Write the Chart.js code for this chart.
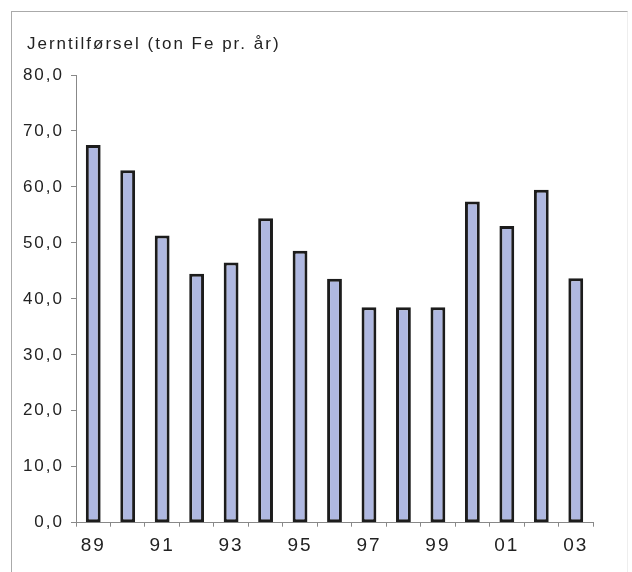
<!DOCTYPE html>
<html>
<head>
<meta charset="utf-8">
<script src="https://cdn.jsdelivr.net/npm/chart.js@4/dist/chart.umd.min.js"></script>
<style>
  body { margin: 0; background: #fff; }
  #wrap { position: relative; width: 632px; height: 572px; }
  #frame { position: absolute; left: 11px; top: 11px; width: 615px; height: 570px;
           border-left: 1px solid #aaa; border-top: 1px solid #aaa; border-right: 1px solid #eee;
           pointer-events: none; }
</style>
</head>
<body>
<div id="wrap">
  <canvas id="chart" width="632" height="572"></canvas>
  <div id="frame"></div>
</div>
<script>
// ========== DATA ==========
const years = ['89','90','91','92','93','94','95','96','97','98','99','00','01','02','03'];
const ironInput = [67.5, 63.0, 51.3, 44.5, 46.5, 54.4, 48.6, 43.6, 38.5, 38.5, 38.5, 57.4, 53.0, 59.5, 43.7];
const shownYears = ['89','91','93','95','97','99','01','03'];
const yTicks = [0, 10, 20, 30, 40, 50, 60, 70, 80];
const titleText = 'Jerntilførsel (ton Fe pr. år)';

// ========== LETTER SPACING + TITLE ==========
const spacing = {
  id: 'spacing',
  beforeUpdate(chart){ chart.ctx.letterSpacing = '2px'; },
  beforeDraw(chart){ chart.ctx.letterSpacing = '2px'; },
  afterDraw(chart){
    const ctx = chart.ctx;
    ctx.save();
    ctx.letterSpacing = '2px';
    ctx.font = '17px "Liberation Sans"';
    ctx.fillStyle = '#222';
    ctx.textAlign = 'left';
    ctx.textBaseline = 'middle';
    ctx.fillText(titleText, 27, 44);
    ctx.restore();
  }
};

// ========== CHART ==========
new Chart(document.getElementById('chart'), {
  type: 'bar',
  data: {
    labels: years,
    datasets: [{
      data: ironInput,
      backgroundColor: '#afb8e1',
      borderColor: '#1c1c1c',
      borderWidth: 3,
      borderSkipped: false,
      categoryPercentage: 1,
      barPercentage: 0.43
    }]
  },
  options: {
    responsive: false,
    animation: false,
    devicePixelRatio: 1,
    layout: { padding: { left: 18, right: 39, top: 75, bottom: 0 } },
    plugins: {
      legend: { display: false },
      tooltip: { enabled: false },
      title: { display: false }
    },
    scales: {
      x: {
        grid: { display: true, drawOnChartArea: false, offset: true, tickLength: 4, color: '#888' },
        border: { display: true, color: '#888', width: 1 },
        ticks: {
          autoSkip: false,
          maxRotation: 0,
          padding: 8,
          color: '#222',
          font: { family: 'Liberation Sans', size: 19 },
          callback: function(v, i){ const l = years[i]; return shownYears.includes(l) ? l : ''; }
        },
        afterFit(scale){ scale.height = 49.3; }
      },
      y: {
        min: yTicks[0],
        max: yTicks[yTicks.length - 1],
        afterBuildTicks(scale){ scale.ticks = yTicks.map(v => ({ value: v })); },
        grid: { display: true, drawOnChartArea: false, tickLength: 5, color: '#888' },
        border: { display: true, color: '#888', width: 1 },
        ticks: {
          padding: 7,
          color: '#222',
          font: { family: 'Liberation Sans', size: 17 },
          callback: v => v.toFixed(1).replace('.', ',')
        },
        afterFit(scale){ scale.width = 58; }
      }
    }
  },
  plugins: [spacing]
});
</script>
</body>
</html>
